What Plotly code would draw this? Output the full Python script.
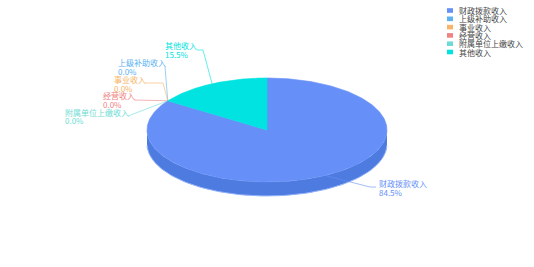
import numpy as np
import plotly.graph_objects as go

# ---- data ----
categories = ["财政拨款收入", "上级补助收入", "事业收入", "经营收入", "附属单位上缴收入", "其他收入"]
values = [84.5, 0.0, 0.0, 0.0, 0.0, 15.5]
colors = ["#6690F8", "#5BB1F2", "#F8B468", "#F08282", "#6EDCD4", "#00E3E0"]
side_colors = ["#4E7BE0", "#4A98D8", "#D99A55", "#D06C6C", "#58C0B8", "#00C0BD"]

W, H = 534, 267
cx, cy, rx, ry, depth = 267, 130, 120, 52, 14

total = sum(values)
fracs = [v / total for v in values]
starts = np.cumsum([0] + fracs[:-1]) * 360.0
ends = starts + np.array(fracs) * 360.0


def pt(theta_deg, dy=0.0):
    t = np.radians(theta_deg)
    return cx + rx * np.sin(t), cy - ry * np.cos(t) + dy


fig = go.Figure()

# side walls (front half only: 90..270 deg clockwise from top)
for i, (a0, a1) in enumerate(zip(starts, ends)):
    lo, hi = max(a0, 90), min(a1, 270)
    if hi <= lo:
        continue
    th = np.linspace(lo, hi, 200)
    xt, yt = pt(th)
    xb, yb = pt(th[::-1], depth)
    fig.add_trace(go.Scatter(x=np.concatenate([xt, xb]), y=np.concatenate([yt, yb]),
                             fill="toself", fillcolor=side_colors[i], mode="lines",
                             line=dict(width=0), hoverinfo="skip", showlegend=False))
# bottom rim highlight
th = np.linspace(92, 268, 200)
xb, yb = pt(th, depth)
fig.add_trace(go.Scatter(x=xb, y=yb, mode="lines", line=dict(color="#8FB0FA", width=1),
                         hoverinfo="skip", showlegend=False))

# top faces
for i, (a0, a1) in enumerate(zip(starts, ends)):
    if a1 - a0 <= 0:
        continue
    th = np.linspace(a0, a1, 300)
    xs, ys = pt(th)
    fig.add_trace(go.Scatter(x=np.concatenate([[cx], xs, [cx]]), y=np.concatenate([[cy], ys, [cy]]),
                             fill="toself", fillcolor=colors[i], mode="lines",
                             line=dict(width=0.6, color=colors[i]), hoverinfo="skip",
                             showlegend=False, name=categories[i]))

# ---- labels & leader lines ----
fs = 8
font = "Noto Sans CJK SC, sans-serif"
mid = (starts + ends) / 2
label_layout = {
    0: dict(left=378, y1=183, y2=192, path=[(370, 187), (376, 187)]),
    1: dict(right=165, y1=62, y2=71, path=[(165, 66.5)]),
    2: dict(right=145, y1=79, y2=88, path=[(163, 83), (145, 83)]),
    3: dict(right=134, y1=95, y2=104, path=[(134, 100)]),
    4: dict(right=128, y1=112, y2=120.5, path=[(131, 115), (128, 116)]),
    5: dict(right=196, y1=45.7, y2=54, path=[(203, 50), (197, 50)]),
}
for i in range(len(categories)):
    L = label_layout[i]
    ax, ay = pt(mid[i])
    if values[i] > 0:
        ax = cx + (ax - cx) * 0.97
        ay = cy + (ay - cy) * 0.97
    path = [(ax, ay)] + L["path"]
    fig.add_trace(go.Scatter(x=[p[0] for p in path], y=[p[1] for p in path], mode="lines",
                             line=dict(color=colors[i], width=0.8), opacity=0.75,
                             hoverinfo="skip", showlegend=False))
    name = categories[i]
    pct = f"{values[i] / total * 100:.1f}%"
    left = L["left"] if "left" in L else L["right"] - len(name) * fs
    for txt, yy in ((name, L["y1"]), (pct, L["y2"])):
        fig.add_annotation(x=left, y=yy, text=txt, showarrow=False, xanchor="left",
                           yanchor="middle", borderpad=0,
                           font=dict(size=fs, color=colors[i], family=font))

# ---- legend (manual) ----
lx, ly0, lstep = 450, 10.5, 8.3
for i, name in enumerate(categories):
    y = ly0 + i * lstep
    fig.add_shape(type="rect", x0=lx - 3, x1=lx + 3, y0=y - 2.3, y1=y + 2.3,
                  fillcolor=colors[i], line=dict(width=0))
    fig.add_annotation(x=lx + 8, y=y, text=name, showarrow=False, xanchor="left",
                       yanchor="middle", borderpad=0,
                       font=dict(size=fs, color="#444444", family=font))

fig.update_layout(
    width=W, height=H, margin=dict(l=0, r=0, t=0, b=0),
    paper_bgcolor="white", plot_bgcolor="white",
    xaxis=dict(range=[0, W], visible=False, fixedrange=True),
    yaxis=dict(range=[H, 0], visible=False, fixedrange=True),
    showlegend=False,
)
fig.write_html("out.html")
